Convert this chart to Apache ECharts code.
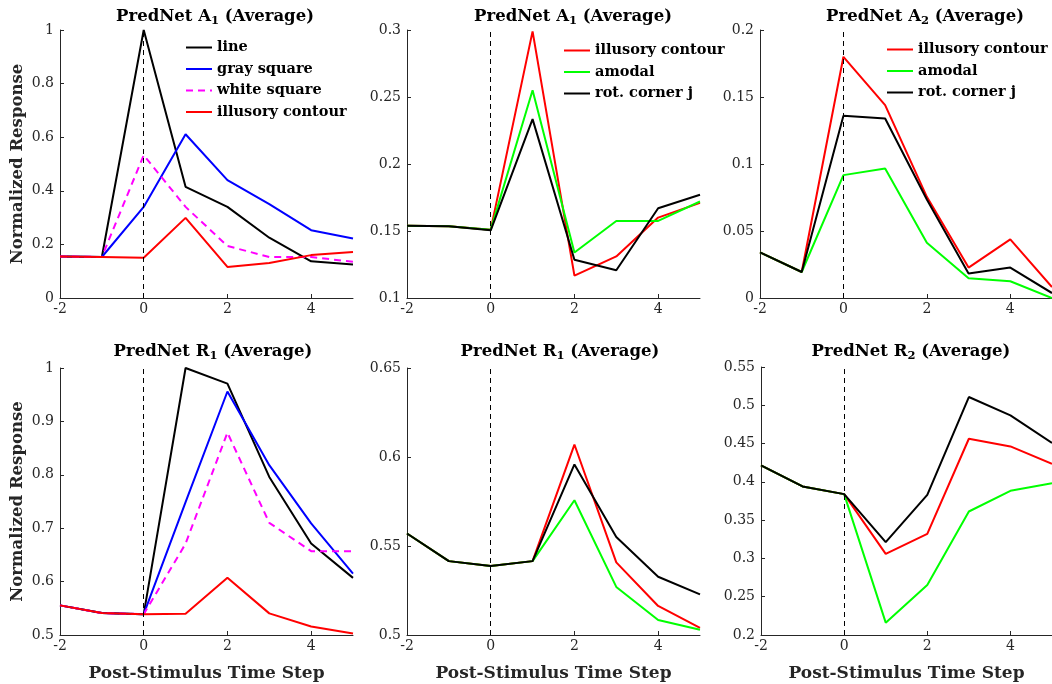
<!DOCTYPE html>
<html>
<head>
<meta charset="utf-8">
<script src="https://cdn.jsdelivr.net/npm/echarts@6/dist/echarts.min.js"></script>
<style>
  html, body { margin: 0; padding: 0; background: #fff; }
  #chart { width: 1052px; height: 684px; }
</style>
</head>
<body>
<div id="chart"></div>
<script>
var steps = [-2, -1, 0, 1, 2, 3, 4, 5];

// top left: A1, shape stimuli
var p1Line = [0.155, 0.153, 1.0, 0.415, 0.34, 0.225, 0.137, 0.125];
var p1Gray = [0.155, 0.153, 0.34, 0.611, 0.44, 0.35, 0.253, 0.222];
var p1White = [0.155, 0.153, 0.533, 0.34, 0.194, 0.153, 0.153, 0.135];
var p1Illusory = [0.155, 0.153, 0.15, 0.299, 0.116, 0.131, 0.16, 0.172];

// top middle: A1, contour stimuli
var p2Illusory = [0.154, 0.1535, 0.151, 0.299, 0.1167, 0.131, 0.160, 0.171];
var p2Amodal = [0.154, 0.1535, 0.151, 0.255, 0.134, 0.1575, 0.1575, 0.172];
var p2Corner = [0.154, 0.1535, 0.1505, 0.2335, 0.1286, 0.1207, 0.167, 0.177];

// top right: A2
var p3Illusory = [0.034, 0.0194, 0.18, 0.144, 0.0755, 0.0227, 0.0438, 0.0082];
var p3Amodal = [0.034, 0.0194, 0.0917, 0.0966, 0.0413, 0.0147, 0.0125, 0.0];
var p3Corner = [0.034, 0.0194, 0.136, 0.134, 0.0735, 0.0182, 0.0227, 0.0037];

// bottom left: R1, shape stimuli
var p4Line = [0.5555, 0.541, 0.539, 1.0, 0.9707, 0.796, 0.6715, 0.607];
var p4Gray = [0.5555, 0.541, 0.539, 0.749, 0.956, 0.818, 0.709, 0.615];
var p4White = [0.5555, 0.541, 0.539, 0.671, 0.879, 0.71, 0.657, 0.657];
var p4Illusory = [0.5555, 0.541, 0.5387, 0.54, 0.607, 0.5405, 0.516, 0.503];

// bottom middle: R1, contour stimuli
var p5Illusory = [0.557, 0.5415, 0.5387, 0.5415, 0.607, 0.5408, 0.5163, 0.504];
var p5Amodal = [0.557, 0.5415, 0.5387, 0.5415, 0.5757, 0.527, 0.5084, 0.503];
var p5Corner = [0.557, 0.5415, 0.5387, 0.5415, 0.5958, 0.555, 0.5327, 0.5228];

// bottom right: R2
var p6Illusory = [0.4214, 0.394, 0.384, 0.306, 0.332, 0.4563, 0.4463, 0.4236];
var p6Amodal = [0.4214, 0.394, 0.384, 0.2161, 0.2654, 0.3613, 0.3883, 0.3983];
var p6Corner = [0.4214, 0.394, 0.384, 0.3212, 0.383, 0.5108, 0.4868, 0.4507];

var titles = ['PredNet A{sub|1} (Average)', 'PredNet A{sub|1} (Average)', 'PredNet A{sub|2} (Average)',
              'PredNet R{sub|1} (Average)', 'PredNet R{sub|1} (Average)', 'PredNet R{sub|2} (Average)'];
var yRanges = [[0, 1, 0.2], [0.1, 0.3, 0.05], [0, 0.2, 0.05], [0.5, 1, 0.1], [0.5, 0.65, 0.05], [0.2, 0.55, 0.05]];

var shapeNames = ['line', 'gray square', 'white square', 'illusory contour'];
var contourNames = ['illusory contour', 'amodal', 'rot. corner j'];

var BLACK = '#000000', BLUE = '#0000ff', MAGENTA = '#ff00ff', RED = '#ff0000', GREEN = '#00ff00';
var AXIS = '#262626';
var BOLD_FONT = 'DejaVu Serif';
var TICK_FONT = 'DejaVu Serif';

var grids = [
  {left: 60, top: 30, width: 293, height: 268},
  {left: 407, top: 30, width: 293, height: 268},
  {left: 760, top: 30, width: 292, height: 268},
  {left: 60, top: 368, width: 293, height: 267},
  {left: 407, top: 368, width: 293, height: 267},
  {left: 761, top: 367, width: 291, height: 268}
];
var titleX = [210, 568, 920, 208, 555, 906];
var titleY = [2, 2, 2, 337, 337, 337];

function pairs(vals) {
  return steps.map(function (s, i) { return [s, vals[i]]; });
}

function lineSeries(name, vals, idx, color, dashed) {
  return {
    type: 'line', name: name, xAxisIndex: idx, yAxisIndex: idx,
    data: pairs(vals), symbol: 'none', animation: false,
    lineStyle: {color: color, width: 2, type: dashed ? [7, 5] : 'solid'},
    itemStyle: {color: color}
  };
}

var series = [
  lineSeries('line', p1Line, 0, BLACK), lineSeries('gray square', p1Gray, 0, BLUE),
  lineSeries('white square', p1White, 0, MAGENTA, true), lineSeries('illusory contour', p1Illusory, 0, RED),
  lineSeries('illusory contour', p2Illusory, 1, RED), lineSeries('amodal', p2Amodal, 1, GREEN),
  lineSeries('rot. corner j', p2Corner, 1, BLACK),
  lineSeries('illusory contour', p3Illusory, 2, RED), lineSeries('amodal', p3Amodal, 2, GREEN),
  lineSeries('rot. corner j', p3Corner, 2, BLACK),
  lineSeries('line', p4Line, 3, BLACK), lineSeries('gray square', p4Gray, 3, BLUE),
  lineSeries('white square', p4White, 3, MAGENTA, true), lineSeries('illusory contour', p4Illusory, 3, RED),
  lineSeries('illusory contour', p5Illusory, 4, RED), lineSeries('amodal', p5Amodal, 4, GREEN),
  lineSeries('rot. corner j', p5Corner, 4, BLACK),
  lineSeries('illusory contour', p6Illusory, 5, RED), lineSeries('amodal', p6Amodal, 5, GREEN),
  lineSeries('rot. corner j', p6Corner, 5, BLACK)
];

// dashed stimulus onset line at t = 0 in each panel
for (var k = 0; k < 6; k++) {
  series.push({
    type: 'line', xAxisIndex: k, yAxisIndex: k, data: [], silent: true, animation: false, z: 1,
    markLine: {
      symbol: ['none', 'none'], silent: true, animation: false,
      label: {show: false},
      lineStyle: {color: '#000', width: 1, type: [5, 4]},
      data: [{xAxis: 0}]
    }
  });
}

var xAxes = [], yAxes = [], titleList = [];
for (var i = 0; i < 6; i++) {
  xAxes.push({
    type: 'value', gridIndex: i, min: -2, max: 5, interval: 2,
    name: i >= 3 ? 'Post-Stimulus Time Step' : '',
    nameLocation: 'middle', nameGap: 30,
    nameTextStyle: {fontFamily: BOLD_FONT, fontWeight: 'bold', fontSize: 17, color: '#262626'},
    axisLine: {onZero: false, lineStyle: {color: AXIS, width: 1}},
    axisTick: {inside: true, length: 4, lineStyle: {color: AXIS}},
    axisLabel: {fontFamily: TICK_FONT, fontSize: 14, color: AXIS, margin: 4, showMaxLabel: false},
    splitLine: {show: false}
  });
  yAxes.push({
    type: 'value', gridIndex: i, min: yRanges[i][0], max: yRanges[i][1], interval: yRanges[i][2],
    name: (i === 0 || i === 3) ? 'Normalized Response' : '',
    nameLocation: 'middle', nameGap: 34,
    nameTextStyle: {fontFamily: BOLD_FONT, fontWeight: 'bold', fontSize: 16.5, color: '#262626'},
    axisLine: {show: true, onZero: false, lineStyle: {color: AXIS, width: 1}},
    axisTick: {show: true, inside: true, length: 4, lineStyle: {color: AXIS}},
    axisLabel: {fontFamily: TICK_FONT, fontSize: 14, color: AXIS, margin: 6},
    splitLine: {show: false}
  });
  titleList.push({
    text: titles[i], left: titleX[i], top: titleY[i], textAlign: 'center',
    textStyle: {
      fontFamily: BOLD_FONT, fontWeight: 'bold', fontSize: 16.5, color: '#000',
      rich: {sub: {fontFamily: BOLD_FONT, fontWeight: 'bold', fontSize: 11.5, padding: [8, 0, 0, 0]}}
    }
  });
}

function legendAt(names, left, top) {
  return {
    data: names, left: left, top: top, orient: 'vertical', padding: 0,
    itemWidth: 26, itemHeight: 14, itemGap: 6.5,
    itemStyle: {opacity: 0},
    selectedMode: false,
    textStyle: {fontFamily: BOLD_FONT, fontWeight: 'bold', fontSize: 14.5, color: '#000', lineHeight: 14}
  };
}

var chart = echarts.init(document.getElementById('chart'), null, {renderer: 'canvas'});
chart.setOption({
  backgroundColor: '#ffffff',
  animation: false,
  title: titleList,
  legend: [legendAt(shapeNames, 185, 40), legendAt(contourNames, 563, 43), legendAt(contourNames, 886, 42)],
  grid: grids,
  xAxis: xAxes,
  yAxis: yAxes,
  series: series
});
</script>
</body>
</html>
